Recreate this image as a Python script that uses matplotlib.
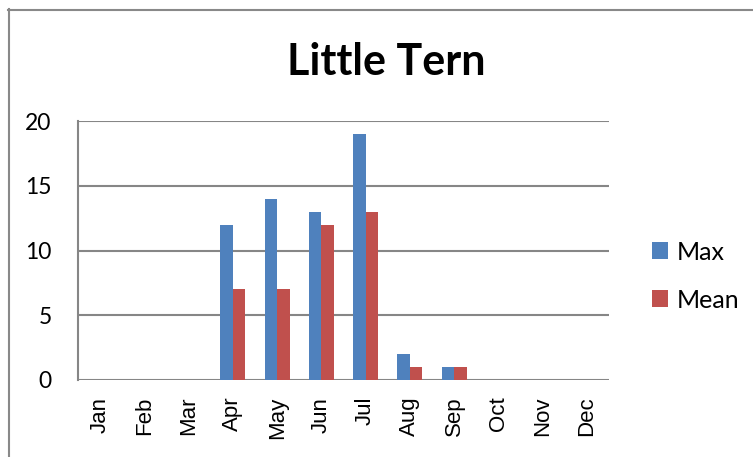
import matplotlib
matplotlib.use('Agg')
import matplotlib.pyplot as plt
from matplotlib.lines import Line2D
import numpy as np

# Data
months = ['Jan', 'Feb', 'Mar', 'Apr', 'May', 'Jun', 'Jul', 'Aug', 'Sep', 'Oct', 'Nov', 'Dec']
max_counts = [0, 0, 0, 12, 14, 13, 19, 2, 1, 0, 0, 0]
mean_counts = [0, 0, 0, 7, 7, 12, 13, 1, 1, 0, 0, 0]

W, H = 753, 457
fig = plt.figure(figsize=(W / 100, H / 100), dpi=100)
ax = fig.add_axes([78 / W, 1 - 380 / H, (609 - 78) / W, (380 - 121) / H])

x = np.arange(len(months))
bw = 0.283
ax.bar(x - bw / 2, max_counts, bw, color='#4F81BD', label='Max', zorder=3)
ax.bar(x + bw / 2, mean_counts, bw, color='#C0504D', label='Mean', zorder=3)

ax.set_xlim(-0.5, len(months) - 0.5)
ax.set_ylim(0, 20)
ax.set_yticks([0, 5, 10, 15, 20])
ax.yaxis.grid(True, color='#868686', linewidth=1.5, zorder=0)
ax.set_axisbelow(True)

for s in ['top', 'right', 'bottom']:
    ax.spines[s].set_visible(False)
ax.spines['left'].set_color('#868686')
ax.spines['left'].set_linewidth(1.5)

ax.set_xticks(x)
ax.set_xticklabels(months, rotation=90, fontsize=16, family='Liberation Sans')
ax.tick_params(axis='x', length=0, pad=12)
ax.tick_params(axis='y', length=0, pad=19, labelsize=16.5)
for lbl in ax.get_yticklabels():
    lbl.set_family('Lato')

fig.text(386 / W, 1 - 62 / H, 'Little Tern', ha='center', va='center',
         fontsize=31, fontweight='bold', family='Lato')

fig.legend(loc='center left', bbox_to_anchor=(629 / W, 1 - 276 / H), frameon=False,
           handlelength=0.65, handleheight=0.65, handletextpad=0.35, labelspacing=1.0,
           prop={'family': 'Lato', 'size': 18})

# outer chart border (only left and top visible in crop)
fig.add_artist(Line2D([8.5 / W, 8.5 / W], [0, 1 - 9 / H], color='#898989', linewidth=1.5))
fig.add_artist(Line2D([8 / W, 1], [1 - 9.5 / H, 1 - 9.5 / H], color='#898989', linewidth=1.5))

plt.savefig('out.png', dpi=100)
